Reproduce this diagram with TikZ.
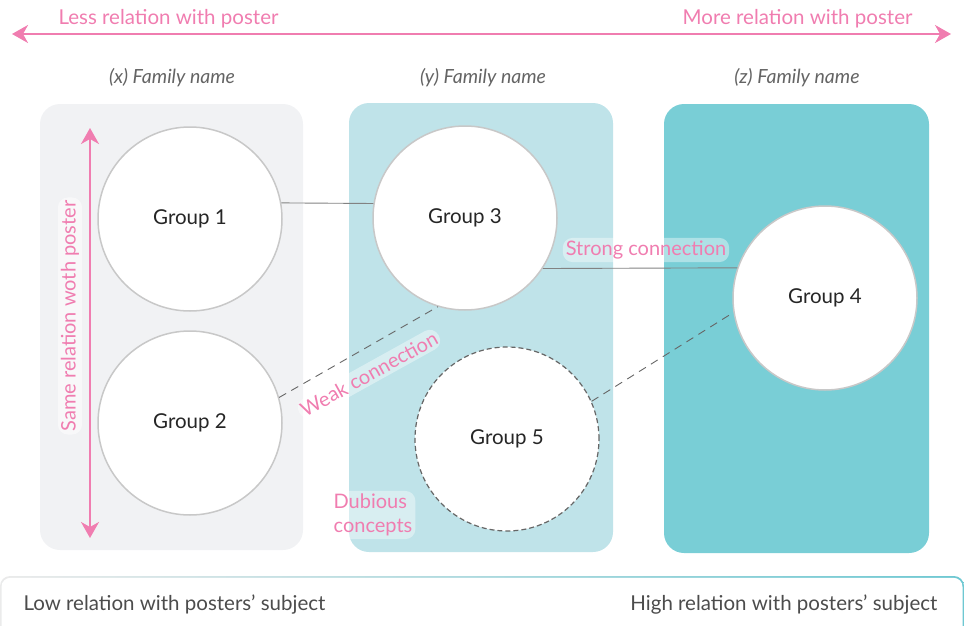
\documentclass[tikz,border=0pt]{standalone}
\usepackage{fontspec}
\setmainfont{Lato}
\usetikzlibrary{arrows.meta}
\definecolor{pinkc}{RGB}{240,125,176}
\definecolor{panelx}{RGB}{241,242,244}
\definecolor{panely}{RGB}{191,227,233}
\definecolor{panelz}{RGB}{121,206,214}
\definecolor{famgray}{RGB}{100,100,100}
\definecolor{circgray}{RGB}{200,200,200}
\definecolor{linegray}{RGB}{130,130,130}
\definecolor{bottomteal}{RGB}{110,200,210}
\tikzset{
  panel/.style={rounded corners=20pt, draw=none},
  grp/.style={circle, draw=circgray, line width=1.5pt, fill=white, minimum size=184pt, inner sep=0pt, font=\fontsize{20.5}{22}\selectfont, text=black!85},
  fam/.style={font=\itshape\fontsize{19.5}{22}\selectfont, text=famgray},
  toplab/.style={font=\fontsize{20.5}{24}\selectfont, text=pinkc},
  pinklab/.style={font=\fontsize{20}{22}\selectfont, text=pinkc, fill=white, fill opacity=0.4, text opacity=1, rounded corners=10pt, inner sep=3pt},
  bottomlab/.style={font=\fontsize{20.5}{22}\selectfont, text=black!70},
  conn/.style={draw=linegray, line width=0.9pt},
  dconn/.style={draw=black!60, line width=0.9pt, dash pattern=on 8pt off 6pt},
  pinkarrow/.style={draw=pinkc, line width=2pt, {Stealth[length=16pt,width=18pt,inset=5pt]}-{Stealth[length=16pt,width=18pt,inset=5pt]}}
}
\begin{document}
\begin{tikzpicture}[x=1pt,y=-1pt]
\useasboundingbox (0,0) rectangle (964,626);
% top arrow
\coordinate (tl) at (12,34);
\coordinate (tr) at (951,34);
\draw[pinkarrow] (tl) -- (tr);
\node[toplab, anchor=base west] (less) at (55,25) {Less relation with poster};
\node[toplab, anchor=base east] (more) at (916,25) {More relation with poster};
% family names
\node[fam] (fx) at (172,78) {(x) Family name};
\node[fam] (fy) at (483,78) {(y) Family name};
\node[fam] (fz) at (797,78) {(z) Family name};
% panels
\fill[panel, fill=panelx] (40,104) rectangle (303,550);
\fill[panel, fill=panely] (349,103) rectangle (613,552);
\fill[panel, fill=panelz] (664,104) rectangle (929,553);
% groups
\node[grp] (g1) at (190,219) {Group 1};
\node[grp] (g2) at (190,423) {Group 2};
\node[grp] (g3) at (465,218) {Group 3};
\node[grp] (g4) at (825,298) {Group 4};
\node[grp, draw=black!60, dash pattern=on 5pt off 3pt, line width=1.2pt] (g5) at (507,439) {Group 5};
% connectors
\draw[conn] (g1.10) -- (g3.171);
\draw[conn] (g3.-33) -- (g4.161);
\draw[dconn] (g2.16) -- (g3.-107);
\draw[dconn] (g5.24) -- (g4.-171);
% labels
\node[pinklab] (strong) at (646,250) {Strong connection};
\node[pinklab, rotate=29] (weak) at (369,374) {Weak connection};
\node[pinklab, align=left, font=\fontsize{20}{24}\selectfont] (dub) at (373,515) {Dubious\\concepts};
% vertical arrow
\coordinate (vt) at (90,128);
\coordinate (vb) at (90,538);
\draw[pinkarrow] (vt) -- (vb);
\node[pinklab, rotate=90, fill opacity=0.5] (same) at (70,316) {Same relation woth poster};
% bottom bar
\begin{scope}
\clip (0,0) rectangle (964,626);
\shade[left color=black!8, right color=bottomteal, rounded corners=10pt] (0,576) rectangle (964,680);
\fill[white, rounded corners=9pt] (1.5,577.8) rectangle (962.5,680);
\end{scope}
\node[bottomlab, anchor=base west] (low) at (20,610) {Low relation with posters’ subject};
\node[bottomlab, anchor=base east] (high) at (941,610) {High relation with posters’ subject};
\end{tikzpicture}
\end{document}
